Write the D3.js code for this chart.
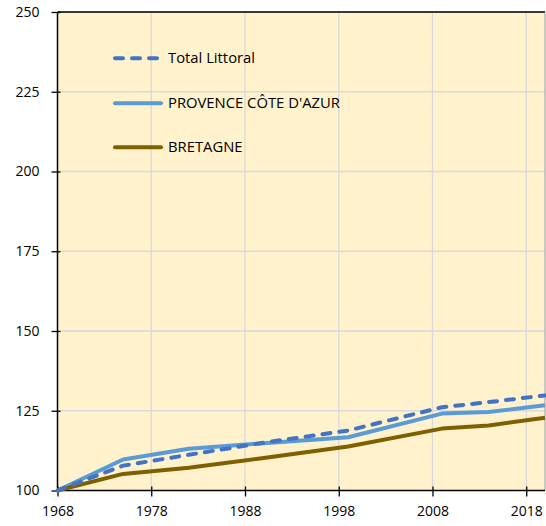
<!DOCTYPE html>
<html><head><meta charset="utf-8">
<script src="https://cdn.jsdelivr.net/npm/d3@7"></script>
<style>
html,body{margin:0;padding:0;background:#fff;}
text{font-family:"Open Sans","Noto Sans",sans-serif;fill:#000;}
</style></head>
<body>
<svg id="c" width="546" height="526"></svg>
<script>
const years = [1968, 1975, 1982, 1990, 1999, 2009, 2014, 2020];
const totalLittoral = [100, 107.8, 111.2, 115.0, 118.8, 126.1, 127.7, 129.8];
const provence = [100, 109.7, 113.1, 114.8, 116.7, 124.1, 124.6, 126.7];
const bretagne = [100, 105.2, 107.1, 110.2, 113.8, 119.4, 120.4, 122.8];
const xTicks = [1968, 1978, 1988, 1998, 2008, 2018];
const yTicks = [100, 125, 150, 175, 200, 225, 250];
const seriesNames = ["Total Littoral", "PROVENCE CÔTE D'AZUR", "BRETAGNE"];

const svg = d3.select("#c");
const L = 57.5, R = 545, T = 12, B = 490.5;
const x = d3.scaleLinear().domain([1968, 2020]).range([L, R]);
const y = d3.scaleLinear().domain([100, 250]).range([B, T]);

svg.append("rect").attr("x", L).attr("y", T).attr("width", R - L).attr("height", B - T).attr("fill", "#FFF2CC");

// gridlines
svg.append("g").selectAll("line").data(yTicks.slice(1)).join("line")
  .attr("x1", L).attr("x2", R).attr("y1", d => y(d)).attr("y2", d => y(d))
  .attr("stroke", "#D9D9D9").attr("stroke-width", 1.3);
svg.append("g").selectAll("line").data(xTicks.slice(1)).join("line")
  .attr("x1", d => x(d)).attr("x2", d => x(d)).attr("y1", T).attr("y2", B)
  .attr("stroke", "#D9D9D9").attr("stroke-width", 1.3);

// borders
svg.append("line").attr("x1", L).attr("x2", R).attr("y1", T).attr("y2", T).attr("stroke", "#000").attr("stroke-width", 1.3);
svg.append("line").attr("x1", R).attr("x2", R).attr("y1", T).attr("y2", B).attr("stroke", "#9a9a9a").attr("stroke-width", 1);

// axes
const yAxis = svg.append("g").attr("transform", `translate(${L},0)`)
  .call(d3.axisLeft(y).tickValues(yTicks).tickSize(6).tickPadding(12));
yAxis.selectAll(".tick line").attr("x2", -6).attr("x1", 3).attr("stroke", "#000").attr("stroke-width", 1.3);
yAxis.select(".domain").attr("stroke", "#000").attr("stroke-width", 1.5).attr("d", `M0,${T}V${B}`);
yAxis.selectAll("text").attr("font-size", 14).attr("font-family", "'Open Sans','Noto Sans',sans-serif");

const xAxis = svg.append("g").attr("transform", `translate(0,${B})`)
  .call(d3.axisBottom(x).tickValues(xTicks).tickFormat(d3.format("d")).tickSize(6).tickPadding(10));
xAxis.selectAll(".tick line").attr("y1", -4).attr("y2", 6).attr("stroke", "#000").attr("stroke-width", 1.3);
xAxis.select(".domain").attr("stroke", "#000").attr("stroke-width", 1.5).attr("d", `M${L},0H${R}`);
xAxis.selectAll("text").attr("font-size", 14).attr("font-family", "'Open Sans','Noto Sans',sans-serif");

const line = d3.line().x((d, i) => x(years[i])).y(d => y(d));
const styles = [
  {data: totalLittoral, color: "#4472C4", dash: "8,9"},
  {data: provence, color: "#5B9BD5", dash: null},
  {data: bretagne, color: "#7F6000", dash: null}
];
const drawOrder = [1, 2, 0];
drawOrder.forEach(i => {
  const s = styles[i];
  svg.append("path").attr("d", line(s.data)).attr("fill", "none")
    .attr("stroke", s.color).attr("stroke-width", 4)
    .attr("stroke-linejoin", "round")
    .attr("stroke-linecap", s.dash ? "round" : "butt")
    .attr("stroke-dasharray", s.dash);
});

// legend
const legY = [58.3, 103.3, 147.3];
const leg = svg.append("g");
seriesNames.forEach((name, i) => {
  const s = styles[i];
  leg.append("line").attr("x1", 115).attr("x2", 161).attr("y1", legY[i]).attr("y2", legY[i])
    .attr("stroke", s.color).attr("stroke-width", 4).attr("stroke-linecap", "round")
    .attr("stroke-dasharray", s.dash);
  leg.append("text").attr("x", 168).attr("y", legY[i]).attr("dy", "0.35em")
    .attr("font-size", 14.8).text(name);
});
</script>
</body></html>
